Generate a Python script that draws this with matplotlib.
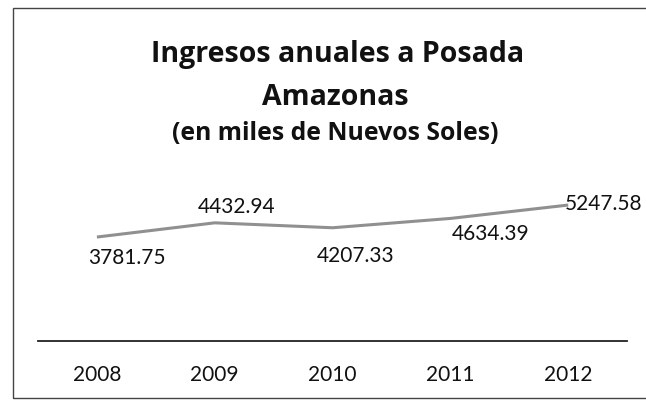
import matplotlib
matplotlib.use("Agg")
import matplotlib.pyplot as plt
from matplotlib.patches import Rectangle

# Data
years = ["2008", "2009", "2010", "2011", "2012"]
ingresos = [3781.75, 4432.94, 4207.33, 4634.39, 5247.58]

# label offsets in pixels (dx, dy) as placed in the original
label_offsets = [(30, -21), (22, 16), (23, -28), (40, -16), (-3, 1)]
label_align = ["center", "center", "center", "center", "left"]

plt.rcParams["font.family"] = ["Lato", "DejaVu Sans"]

fig = plt.figure(figsize=(6.46, 4.01), dpi=100)
ax = fig.add_axes([0.0588, 0.1486, 0.912, 0.381])

x = list(range(len(years)))
ax.plot(x, ingresos, color="#909090", linewidth=2.2, solid_capstyle="butt")

for xi, v, (dx, dy), ha in zip(x, ingresos, label_offsets, label_align):
    ax.annotate(f"{v:.2f}", xy=(xi, v), xytext=(dx, dy),
                textcoords="offset pixels", ha=ha, va="center",
                fontsize=15, color="#111111", annotation_clip=False)

ax.set_xlim(-0.5, 4.5)
ax.set_ylim(-1000, 6000)
ax.set_xticks(x)
ax.set_xticklabels(years, fontsize=15, color="#111111")
ax.set_yticks([])
ax.tick_params(axis="x", length=0, pad=17)
for side in ["top", "right", "left"]:
    ax.spines[side].set_visible(False)
ax.spines["bottom"].set_color("#222222")
ax.spines["bottom"].set_linewidth(1.3)

# Title block
title_font = ["Open Sans", "DejaVu Sans"]
fig.text(0.522, 0.845, "Ingresos anuales a Posada", ha="center", va="baseline",
         fontsize=20.5, fontweight="bold", color="#111111", family=title_font)
fig.text(0.519, 0.738, "Amazonas", ha="center", va="baseline",
         fontsize=20.5, fontweight="bold", color="#111111", family=title_font)
fig.text(0.519, 0.651, "(en miles de Nuevos Soles)", ha="center", va="baseline",
         fontsize=17.8, fontweight="bold", color="#111111", family=title_font)

# chart frame (right edge falls outside the scan)
frame = Rectangle((13 / 646, 3 / 401), 1.2, 390 / 401, transform=fig.transFigure,
                  fill=False, edgecolor="#444444", linewidth=1.0, clip_on=False)
fig.add_artist(frame)

plt.savefig("out.png", dpi=100)
